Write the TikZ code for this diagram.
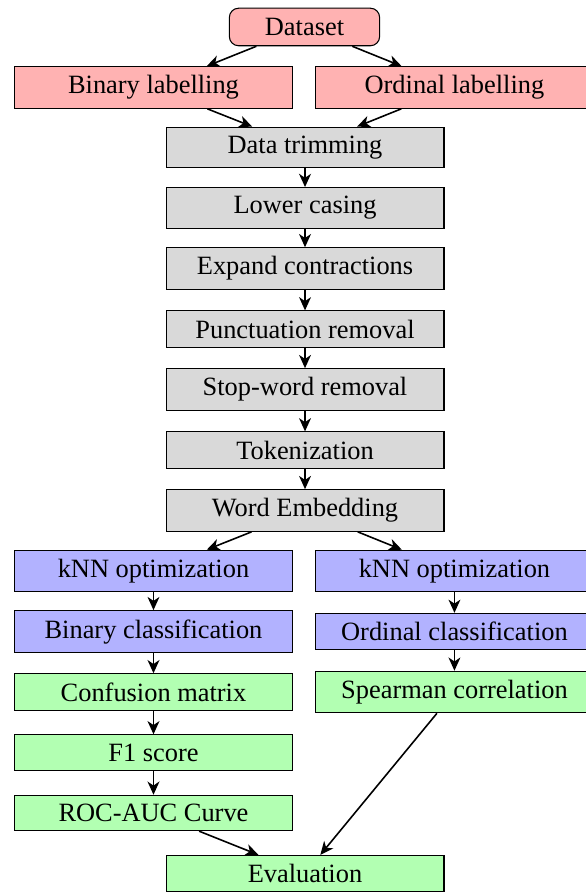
\documentclass[tikz,border=0pt]{standalone}
\usepackage{fontspec}
\setmainfont{Liberation Serif}
\usetikzlibrary{arrows.meta}
\begin{document}
\begin{tikzpicture}[
    stagebox/.style={draw, rectangle, minimum width=3.7cm},
    labelbox/.style={stagebox, fill=red!30},
    prepbox/.style={stagebox, fill=gray!30},
    knnbox/.style={stagebox, fill=blue!30},
    evalbox/.style={stagebox, fill=green!30},
    flow/.style={-{Stealth[length=5pt,width=4.5pt,inset=1.5pt]}, semithick}]
    \clip (0,0) rectangle (7.800000,-11.873000);

    % Drawing dataset and labelling
    \node [draw, rounded corners=3.5pt, fill=red!30, minimum width=2cm, minimum height=0.5cm] (dataset) at (4.053000,-0.359000) {Dataset};
    \node [labelbox] (binlab) at (2.043000,-1.165000) {Binary labelling};
    \node [labelbox] (ordlab) at (6.049000,-1.165000) {Ordinal labelling};

    % Drawing preprocessing
    \node [prepbox] (trim) at (4.060000,-1.963000) {Data trimming};
    \node [prepbox] (lower) at (4.060000,-2.768000) {Lower casing};
    \node [prepbox] (expand) at (4.060000,-3.574000) {Expand contractions};
    \node [prepbox] (punct) at (4.060000,-4.379000) {Punctuation removal};
    \node [prepbox] (stopw) at (4.060000,-5.184000) {Stop-word removal};
    \node [prepbox] (token) at (4.060000,-5.990000) {Tokenization};
    \node [prepbox] (embed) at (4.060000,-6.795000) {Word Embedding};

    % Drawing classification
    \node [knnbox] (knnbin) at (2.043000,-7.600000) {kNN optimization};
    \node [knnbox] (knnord) at (6.049000,-7.600000) {kNN optimization};
    \node [knnbox] (binclass) at (2.043000,-8.407000) {Binary classification};
    \node [knnbox] (ordclass) at (6.049000,-8.407000) {Ordinal classification};

    % Drawing metrics
    \node [evalbox] (confmat) at (2.043000,-9.211000) {Confusion matrix};
    \node [evalbox] (spearman) at (6.049000,-9.211000) {Spearman correlation};
    \node [evalbox] (fscore) at (2.043000,-10.016000) {F1 score};
    \node [evalbox] (rocauc) at (2.043000,-10.821000) {ROC-AUC Curve};
    \node [evalbox] (evaluation) at (4.060000,-11.626000) {Evaluation};

    % Drawing arrows
    \draw [flow] (dataset) -- (binlab);
    \draw [flow] (dataset) -- (ordlab);
    \draw [flow] (binlab) -- (trim);
    \draw [flow] (ordlab) -- (trim);
    \draw [flow] (trim) -- (lower);
    \draw [flow] (lower) -- (expand);
    \draw [flow] (expand) -- (punct);
    \draw [flow] (punct) -- (stopw);
    \draw [flow] (stopw) -- (token);
    \draw [flow] (token) -- (embed);
    \draw [flow] (embed) -- (knnbin);
    \draw [flow] (embed) -- (knnord);
    \draw [flow] (knnbin) -- (binclass);
    \draw [flow] (knnord) -- (ordclass);
    \draw [flow] (binclass) -- (confmat);
    \draw [flow] (ordclass) -- (spearman);
    \draw [flow] (confmat) -- (fscore);
    \draw [flow] (fscore) -- (rocauc);
    \draw [flow] (rocauc) -- (evaluation);
    \draw [flow] (spearman) -- (evaluation);
\end{tikzpicture}
\end{document}
